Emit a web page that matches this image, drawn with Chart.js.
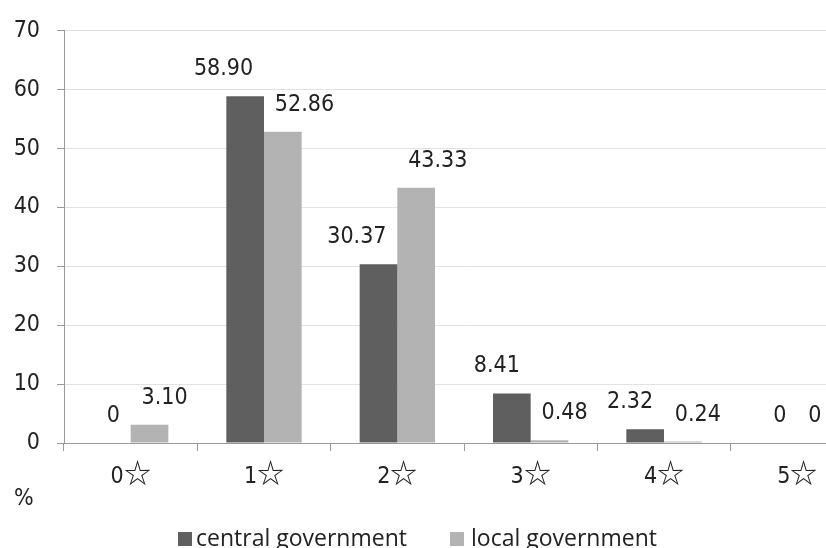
<!DOCTYPE html>
<html>
<head>
<meta charset="utf-8">
<script src="https://cdn.jsdelivr.net/npm/chart.js@4.4.1/dist/chart.umd.min.js"></script>
<style>
  /* full-width star glyph for the rating labels */
  @font-face {
    font-family: 'RatingStar';
    src: local('Noto Sans CJK JP Regular'), local('NotoSansCJKjp-Regular'), local('Noto Sans CJK JP');
    unicode-range: U+2606;
    size-adjust: 118%;
  }
  html, body { margin: 0; padding: 0; background: #ffffff; overflow: hidden; }
  #wrap { width: 826px; height: 548px; overflow: hidden; position: relative; }
  canvas { display: block; }
</style>
</head>
<body>
<div id="wrap"><canvas id="chart" width="866" height="548"></canvas></div>
<script>
// Star ratings and share (%) of websites at each rating
const categories = ['0☆', '1☆', '2☆', '3☆', '4☆', '5☆'];
const centralGovernment = [0, 58.90, 30.37, 8.41, 2.32, 0];
const localGovernment = [3.10, 52.86, 43.33, 0.48, 0.24, 0];
const valueLabels = {
  central: ['0', '58.90', '30.37', '8.41', '2.32', '0'],
  local: ['3.10', '52.86', '43.33', '0.48', '0.24', '0']
};
const yTicks = [0, 10, 20, 30, 40, 50, 60, 70];
const seriesNames = ['central government', 'local government'];

const DARK = '#5f5f5f';
const LIGHT = '#b3b3b3';
const TEXT = '#222222';
const AXIS = '#9a9a9a';
const GRID = '#e2e2e2';
const NUM_FONT = '"DejaVu Sans Condensed", "DejaVu Sans"';

// Value labels above each bar: dark series to the left, light series to the right
const barLabels = {
  id: 'barLabels',
  afterDatasetsDraw(chart) {
    const ctx = chart.ctx;
    ctx.save();
    ctx.font = '23px ' + NUM_FONT;
    ctx.fillStyle = TEXT;
    ctx.textBaseline = 'middle';
    const sets = [valueLabels.central, valueLabels.local];
    chart.data.datasets.forEach((ds, i) => {
      const meta = chart.getDatasetMeta(i);
      meta.data.forEach((bar, j) => {
        const y = bar.y - 27;
        if (i === 0) {
          ctx.textAlign = 'right';
          ctx.fillText(sets[i][j], bar.x + 8, y);
        } else {
          ctx.textAlign = 'left';
          ctx.fillText(sets[i][j], bar.x - 8, y);
        }
      });
    });
    ctx.restore();
  }
};

// Unit marker and legend beneath the axis
const footer = {
  id: 'footer',
  afterDraw(chart) {
    const ctx = chart.ctx;
    ctx.save();
    ctx.fillStyle = TEXT;
    ctx.font = '23px ' + NUM_FONT;
    ctx.textAlign = 'left';
    ctx.textBaseline = 'middle';
    ctx.fillText('%', 14, 499);

    const items = [
      { box: 178, text: 196 },
      { box: 450, text: 471 }
    ];
    ctx.font = '23px "Open Sans"';
    ctx.textBaseline = 'alphabetic';
    chart.data.datasets.forEach((ds, i) => {
      ctx.fillStyle = ds.backgroundColor;
      ctx.fillRect(items[i].box, 532, 14, 14);
      ctx.fillStyle = TEXT;
      ctx.fillText(ds.label, items[i].text, 546);
    });
    ctx.restore();
  }
};

function draw() {
  new Chart(document.getElementById('chart'), {
    type: 'bar',
    data: {
      labels: categories,
      datasets: [
        { label: seriesNames[0], data: centralGovernment, backgroundColor: DARK },
        { label: seriesNames[1], data: localGovernment, backgroundColor: LIGHT }
      ]
    },
    options: {
      responsive: false,
      devicePixelRatio: 1,
      animation: false,
      layout: { padding: { top: 30, right: 2, bottom: 0, left: 0 } },
      datasets: {
        bar: { categoryPercentage: 0.565, barPercentage: 1.0, borderWidth: 0 }
      },
      plugins: {
        legend: { display: false },
        tooltip: { enabled: false }
      },
      scales: {
        x: {
          afterFit(axis) { axis.height = 105; },
          grid: {
            offset: true,
            drawOnChartArea: false,
            drawTicks: true,
            tickLength: 8,
            color: AXIS,
            tickColor: AXIS
          },
          border: { display: true, color: AXIS, width: 1 },
          ticks: {
            color: TEXT,
            padding: 12,
            font: { family: 'RatingStar, ' + NUM_FONT, size: 23 }
          }
        },
        y: {
          min: 0,
          max: 70,
          afterFit(axis) { axis.width = 64; },
          afterBuildTicks(axis) { axis.ticks = yTicks.map(v => ({ value: v })); },
          grid: {
            color: GRID,
            tickColor: AXIS,
            tickLength: 7,
            drawTicks: true
          },
          border: { display: true, color: AXIS, width: 1 },
          ticks: {
            color: TEXT,
            padding: 17,
            font: { family: NUM_FONT, size: 23 }
          }
        }
      }
    },
    plugins: [barLabels, footer]
  });
}

// the star face has to be ready before the canvas text is painted
Promise.race([
  document.fonts.load('23px RatingStar', '☆'),
  new Promise(r => setTimeout(r, 800))
]).then(draw, draw);
</script>
</body>
</html>
